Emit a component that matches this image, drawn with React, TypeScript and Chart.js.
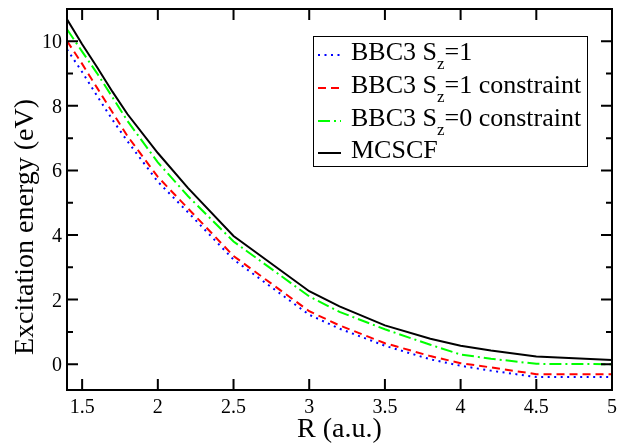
import { useEffect, useRef } from 'react';
import { Chart, registerables } from 'chart.js';

Chart.register(...registerables);

// ---- data ----
const R = [1.4, 1.5, 1.6, 1.7, 1.8, 2.0, 2.2, 2.5, 3.0, 3.2, 3.5, 3.8, 4.0, 4.2, 4.5, 5.0];
const bbc3Sz1 = [9.75, 9.05, 8.3, 7.57, 6.9, 5.65, 4.7, 3.24, 1.53, 1.1, 0.57, 0.15, -0.05, -0.2, -0.4, -0.4];
const bbc3Sz1Constraint = [10.01, 9.3, 8.55, 7.8, 7.06, 5.8, 4.82, 3.35, 1.64, 1.2, 0.65, 0.25, 0.03, -0.1, -0.31, -0.31];
const bbc3Sz0Constraint = [10.37, 9.68, 9.0, 8.27, 7.53, 6.25, 5.2, 3.8, 2.1, 1.62, 1.08, 0.6, 0.3, 0.17, 0.01, 0.0];
const mcscf = [10.68, 9.91, 9.19, 8.44, 7.74, 6.54, 5.45, 3.97, 2.26, 1.79, 1.2, 0.79, 0.57, 0.42, 0.24, 0.13];

const seriesLabels = ['BBC3 S_z=1', 'BBC3 S_z=1 constraint', 'BBC3 S_z=0 constraint', 'MCSCF'];
const xTickValues = [1.5, 2, 2.5, 3, 3.5, 4, 4.5, 5];
const xTickLabels = ['1.5', '2', '2.5', '3', '3.5', '4', '4.5', '5'];
const yTickValues = [0, 2, 4, 6, 8, 10];
const yTickLabels = ['0', '2', '4', '6', '8', '10'];
const yMinorTickValues = [1, 3, 5, 7, 9];
const xTitle = 'R (a.u.)';
const yTitle = 'Excitation energy (eV)';

const FONT = '"Liberation Serif", "Times New Roman", serif';
Chart.defaults.font.family = FONT;

const styles = [
  { color: '#0000ff', dash: [2, 4.5] },
  { color: '#ff0000', dash: [8, 5] },
  { color: '#00ff00', dash: [12, 4, 2, 4] },
  { color: '#000000', dash: [] as number[] },
];

const toPoints = (ys: number[]) => R.map((x, i) => ({ x, y: ys[i] }));

const framePlugin = {
  id: 'frameAndLegend',
  afterDatasetsDraw(chart: any) {
    const { ctx, chartArea: a, scales } = chart;
    const xs = scales.x;
    const ys = scales.y;
    ctx.save();
    ctx.strokeStyle = '#000';
    ctx.lineWidth = 2;
    ctx.setLineDash([]);
    ctx.strokeRect(a.left, a.top, a.right - a.left, a.bottom - a.top);
    ctx.beginPath();
    for (const v of xTickValues) {
      const px = xs.getPixelForValue(v);
      ctx.moveTo(px, a.bottom);
      ctx.lineTo(px, a.bottom - 11);
      ctx.moveTo(px, a.top);
      ctx.lineTo(px, a.top + 11);
    }
    for (const v of yTickValues) {
      const py = ys.getPixelForValue(v);
      ctx.moveTo(a.left, py);
      ctx.lineTo(a.left + 11, py);
      ctx.moveTo(a.right, py);
      ctx.lineTo(a.right - 11, py);
    }
    for (const v of yMinorTickValues) {
      const py = ys.getPixelForValue(v);
      ctx.moveTo(a.left, py);
      ctx.lineTo(a.left + 6, py);
      ctx.moveTo(a.right, py);
      ctx.lineTo(a.right - 6, py);
    }
    ctx.stroke();

    // tick labels
    ctx.fillStyle = '#000';
    ctx.font = `20px ${FONT}`;
    ctx.textBaseline = 'alphabetic';
    ctx.textAlign = 'center';
    xTickValues.forEach((v, i) => {
      ctx.fillText(xTickLabels[i], xs.getPixelForValue(v), 412.5);
    });
    ctx.textAlign = 'right';
    yTickValues.forEach((v, i) => {
      ctx.fillText(yTickLabels[i], a.left - 5, ys.getPixelForValue(v) + 7);
    });

    // axis titles
    ctx.font = `28px ${FONT}`;
    ctx.textAlign = 'center';
    ctx.fillText(xTitle, (a.left + a.right) / 2, 437);
    ctx.save();
    ctx.translate(33, 227);
    ctx.rotate(-Math.PI / 2);
    ctx.fillText(yTitle, 0, 0);
    ctx.restore();

    // legend
    const bx = 313, by = 36, bw = 274, bh = 130;
    ctx.fillStyle = '#fff';
    ctx.fillRect(bx, by, bw, bh);
    ctx.lineWidth = 1;
    ctx.strokeStyle = '#000';
    ctx.strokeRect(bx + 0.5, by + 0.5, bw, bh);
    const baselines = [60, 93, 126, 158];
    seriesLabels.forEach((label, i) => {
      const base = baselines[i];
      const ds = chart.data.datasets[i];
      ctx.save();
      ctx.strokeStyle = ds.borderColor;
      ctx.lineWidth = 2;
      ctx.setLineDash(ds.borderDash || []);
      ctx.beginPath();
      ctx.moveTo(318, base - 5);
      ctx.lineTo(341, base - 5);
      ctx.stroke();
      ctx.restore();
      ctx.fillStyle = '#000';
      ctx.textAlign = 'left';
      ctx.textBaseline = 'alphabetic';
      let x = 351;
      const parts = label.split('_');
      ctx.font = `26px ${FONT}`;
      ctx.fillText(parts[0], x, base);
      x += ctx.measureText(parts[0]).width;
      if (parts.length > 1) {
        const sub = parts[1].charAt(0);
        const rest = parts[1].slice(1);
        ctx.font = `17px ${FONT}`;
        ctx.fillText(sub, x, base + 9);
        x += ctx.measureText(sub).width;
        ctx.font = `26px ${FONT}`;
        ctx.fillText(rest, x, base);
      }
    });
    ctx.restore();
  },
};

export default function App() {
  const ref = useRef<HTMLCanvasElement>(null);
  useEffect(() => {
    if (!ref.current) return;
    const series = [bbc3Sz1, bbc3Sz1Constraint, bbc3Sz0Constraint, mcscf];
    const chart = new Chart(ref.current, {
      type: 'line',
      data: {
        datasets: series.map((s, i) => ({
          label: seriesLabels[i],
          data: toPoints(s),
          borderColor: styles[i].color,
          backgroundColor: styles[i].color,
          borderDash: styles[i].dash,
          borderWidth: 2,
          pointRadius: 0,
          tension: 0,
          fill: false,
        })),
      },
      options: {
        responsive: false,
        animation: false,
        layout: { padding: { top: 9, right: 6, left: 0, bottom: 0 } },
        plugins: { legend: { display: false }, tooltip: { enabled: false } },
        scales: {
          x: {
            type: 'linear',
            min: 1.4,
            max: 5,
            grid: { display: false, drawTicks: false, tickLength: 0 },
            border: { display: false },
            ticks: { display: false },
            afterBuildTicks: (s: any) => {
              s.ticks = xTickValues.map((value) => ({ value }));
            },
            afterFit: (s: any) => {
              s.height = 53;
              s.paddingLeft = 0;
              s.paddingRight = 0;
            },
          },
          y: {
            type: 'linear',
            min: -0.8,
            max: 11,
            grid: { display: false, drawTicks: false, tickLength: 0 },
            border: { display: false },
            ticks: { display: false },
            afterBuildTicks: (s: any) => {
              s.ticks = yTickValues.map((value) => ({ value }));
            },
            afterFit: (s: any) => {
              s.width = 67;
              s.paddingTop = 0;
              s.paddingBottom = 0;
            },
          },
        },
      },
      plugins: [framePlugin],
    });
    return () => chart.destroy();
  }, []);
  return (
    <div style={{ position: 'absolute', left: 0, top: 0, width: 618, height: 443, background: '#fff' }}>
      <canvas ref={ref} width={618} height={443} style={{ display: 'block', width: 618, height: 443 }} />
    </div>
  );
}
